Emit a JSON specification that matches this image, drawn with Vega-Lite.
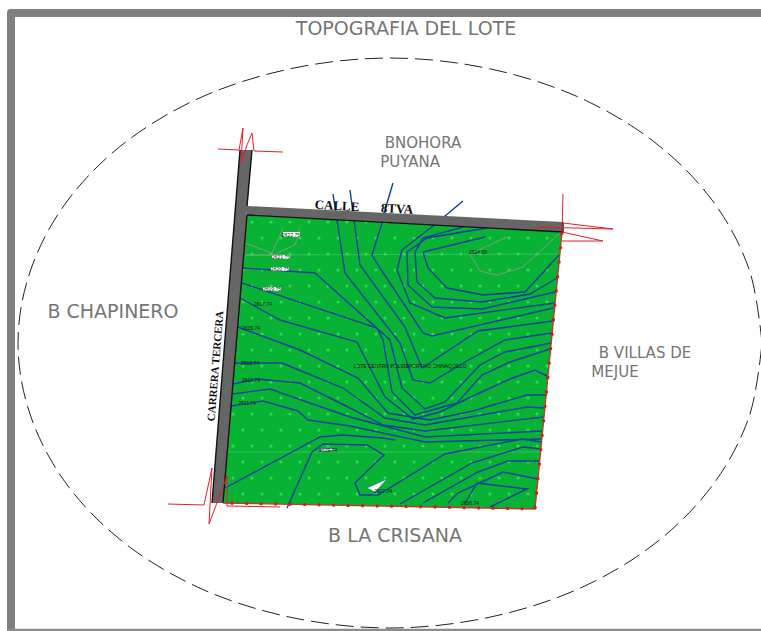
{"$schema":"https://vega.github.io/schema/vega-lite/v6.json","width":761,"height":631,"padding":0,"autosize":{"type":"none"},"background":"white","config":{"view":{"stroke":null}},
"datasets":{
"frame":[{"g":"a","x":11,"y":631},{"g":"a","x":11,"y":13},{"g":"a","x":761,"y":13}],
"frameBottom":[{"g":"b","x":7,"y":630},{"g":"b","x":761,"y":630}],
"ellipse":[{"g":"e","x":762,"y":343},{"g":"e","x":749,"y":269},{"g":"e","x":712,"y":200},{"g":"e","x":653,"y":141},{"g":"e","x":576,"y":96},{"g":"e","x":486,"y":68},{"g":"e","x":390,"y":58},{"g":"e","x":294,"y":68},{"g":"e","x":204,"y":96},{"g":"e","x":127,"y":141},{"g":"e","x":68,"y":200},{"g":"e","x":31,"y":269},{"g":"e","x":18,"y":343},{"g":"e","x":31,"y":417},{"g":"e","x":68,"y":486},{"g":"e","x":127,"y":545},{"g":"e","x":204,"y":590},{"g":"e","x":294,"y":618},{"g":"e","x":390,"y":628},{"g":"e","x":486,"y":618},{"g":"e","x":576,"y":590},{"g":"e","x":653,"y":545},{"g":"e","x":712,"y":486},{"g":"e","x":749,"y":417},{"g":"e","x":762,"y":343}],
"green":[{"g":"l","x":223,"y":503,"y2":503},{"g":"l","x":246,"y":215,"y2":503.4},{"g":"l","x":535,"y":229.6,"y2":509},{"g":"l","x":562,"y":231,"y2":231}],
"road":[{"g":"left","x":212,"y":503,"y2":503},{"g":"left","x":223,"y":364,"y2":503},{"g":"left","x":240,"y":150,"y2":296},{"g":"left","x":252,"y":150,"y2":150},{"g":"top","x":247,"y":206,"y2":215},{"g":"top","x":563,"y":222,"y2":232}],
"white":[{"g":"t1","x":367,"y":488,"y2":488},{"g":"t1","x":375,"y":484.4,"y2":492},{"g":"t1","x":387,"y":479,"y2":479},{"g":"t2","x":320,"y":448,"y2":448},{"g":"t2","x":322,"y":448.2,"y2":452},{"g":"t2","x":338,"y":449,"y2":449}],
"faint":[{"g":"f1","x":246,"y":255},{"g":"f1","x":558,"y":254},{"g":"f2","x":226,"y":452},{"g":"f2","x":540,"y":452}],
"gray":[{"g":"g1","x":283,"y":228},{"g":"g1","x":272,"y":253},{"g":"g1","x":245,"y":243},{"g":"g2","x":300,"y":228},{"g":"g2","x":295,"y":245},{"g":"g2","x":273,"y":255},{"g":"g2","x":245,"y":255},{"g":"g3","x":507,"y":237},{"g":"g3","x":470,"y":254},{"g":"g3","x":480,"y":271},{"g":"g3","x":497,"y":275},{"g":"g3","x":523,"y":267},{"g":"g3","x":560,"y":233}],
"contours":[
{"g":"t1","x":393,"y":183},{"g":"t1","x":385,"y":210},{"g":"t1","x":382,"y":223},{"g":"t1","x":372,"y":255},{"g":"t1","x":380,"y":268},{"g":"t1","x":423,"y":333},{"g":"t1","x":432,"y":336},{"g":"t1","x":553,"y":308},
{"g":"t2","x":350,"y":190},{"g":"t2","x":354,"y":220},{"g":"t2","x":360,"y":265},{"g":"t2","x":405,"y":327},{"g":"t2","x":422,"y":368},{"g":"t2","x":478,"y":331},{"g":"t2","x":553,"y":321},
{"g":"t3","x":333,"y":194},{"g":"t3","x":337,"y":220},{"g":"t3","x":345,"y":273},{"g":"t3","x":400,"y":343},{"g":"t3","x":413,"y":380},{"g":"t3","x":430,"y":383},{"g":"t3","x":465,"y":362},{"g":"t3","x":505,"y":340},{"g":"t3","x":552,"y":333},
{"g":"h1","x":243,"y":268},{"g":"h1","x":315,"y":273},{"g":"h1","x":390,"y":340},{"g":"h1","x":402,"y":388},{"g":"h1","x":425,"y":409},{"g":"h1","x":445,"y":402},{"g":"h1","x":480,"y":365},{"g":"h1","x":505,"y":352},{"g":"h1","x":551,"y":343},
{"g":"h2","x":242,"y":283},{"g":"h2","x":377,"y":328},{"g":"h2","x":383,"y":340},{"g":"h2","x":392,"y":392},{"g":"h2","x":415,"y":415},{"g":"h2","x":457,"y":403},{"g":"h2","x":482,"y":375},{"g":"h2","x":510,"y":362},{"g":"h2","x":550,"y":349},
{"g":"h3","x":240,"y":298},{"g":"h3","x":280,"y":320},{"g":"h3","x":357,"y":342},{"g":"h3","x":385,"y":397},{"g":"h3","x":413,"y":419},{"g":"h3","x":440,"y":412},{"g":"h3","x":473,"y":396},{"g":"h3","x":510,"y":379},{"g":"h3","x":535,"y":370},{"g":"h3","x":549,"y":377},
{"g":"u1","x":433,"y":226},{"g":"u1","x":402,"y":250},{"g":"u1","x":397,"y":270},{"g":"u1","x":410,"y":303},{"g":"u1","x":445,"y":318},{"g":"u1","x":555,"y":303},
{"g":"u2","x":487,"y":228},{"g":"u2","x":427,"y":238},{"g":"u2","x":407,"y":252},{"g":"u2","x":408,"y":285},{"g":"u2","x":432,"y":307},{"g":"u2","x":482,"y":309},{"g":"u2","x":555,"y":292},
{"g":"u3","x":463,"y":227},{"g":"u3","x":423,"y":238},{"g":"u3","x":415,"y":252},{"g":"u3","x":417,"y":282},{"g":"u3","x":435,"y":298},{"g":"u3","x":482,"y":302},{"g":"u3","x":530,"y":294},{"g":"u3","x":557,"y":278},
{"g":"u4","x":485,"y":237},{"g":"u4","x":423,"y":252},{"g":"u4","x":428,"y":268},{"g":"u4","x":447,"y":288},{"g":"u4","x":483,"y":295},{"g":"u4","x":525,"y":292},{"g":"u4","x":559,"y":255},
{"g":"s1","x":463,"y":201},{"g":"s1","x":433,"y":226},
{"g":"a","x":238,"y":327},{"g":"a","x":300,"y":350},{"g":"a","x":358,"y":378},{"g":"a","x":388,"y":413},{"g":"a","x":430,"y":420},{"g":"a","x":473,"y":411},{"g":"a","x":527,"y":395},{"g":"a","x":547,"y":395},
{"g":"b","x":235,"y":363},{"g":"b","x":282,"y":363},{"g":"b","x":343,"y":388},{"g":"b","x":385,"y":418},{"g":"b","x":425,"y":425},{"g":"b","x":527,"y":407},{"g":"b","x":545,"y":408},
{"g":"c","x":233,"y":384},{"g":"c","x":257,"y":379},{"g":"c","x":300,"y":383},{"g":"c","x":350,"y":408},{"g":"c","x":383,"y":425},{"g":"c","x":425,"y":431},{"g":"c","x":543,"y":417},
{"g":"d","x":233,"y":394},{"g":"d","x":270,"y":389},{"g":"d","x":350,"y":417},{"g":"d","x":425,"y":437},{"g":"d","x":542,"y":431},
{"g":"e","x":231,"y":406},{"g":"e","x":263,"y":401},{"g":"e","x":298,"y":411},{"g":"e","x":308,"y":420},{"g":"e","x":350,"y":426},{"g":"e","x":425,"y":442},{"g":"e","x":542,"y":439},
{"g":"f","x":225,"y":488},{"g":"f","x":320,"y":437},{"g":"f","x":342,"y":435},{"g":"f","x":383,"y":438},{"g":"f","x":395,"y":440},
{"g":"loop","x":287,"y":508},{"g":"loop","x":312,"y":452},{"g":"loop","x":323,"y":444},{"g":"loop","x":367,"y":445},{"g":"loop","x":384,"y":455},{"g":"loop","x":355,"y":483},{"g":"loop","x":360,"y":495},{"g":"loop","x":378,"y":495},{"g":"loop","x":445,"y":454},{"g":"loop","x":522,"y":439},{"g":"loop","x":542,"y":442},
{"g":"p1","x":400,"y":504},{"g":"p1","x":472,"y":463},{"g":"p1","x":523,"y":447},{"g":"p1","x":541,"y":449},
{"g":"p2","x":423,"y":503},{"g":"p2","x":478,"y":472},{"g":"p2","x":508,"y":461},{"g":"p2","x":540,"y":461},
{"g":"p3","x":448,"y":503},{"g":"p3","x":458,"y":493},{"g":"p3","x":503,"y":472},{"g":"p3","x":538,"y":479},
{"g":"p4","x":465,"y":503},{"g":"p4","x":477,"y":483},{"g":"p4","x":527,"y":489},{"g":"p4","x":490,"y":507}
],
"black":[{"g":"a","x":240,"y":150},{"g":"a","x":212,"y":503},{"g":"b","x":252,"y":150},{"g":"b","x":247,"y":206},{"g":"c","x":247,"y":215},{"g":"c","x":223,"y":503},{"g":"d","x":247,"y":215},{"g":"d","x":563,"y":232},{"g":"d","x":563,"y":222}],
"redEdge":[{"g":"r","x":562,"y":232},{"g":"r","x":535,"y":509},{"g":"r","x":223,"y":503}],
"red":[
{"g":"a","x":218,"y":149},{"g":"a","x":239,"y":150},{"g":"a","x":243,"y":128},{"g":"a","x":241,"y":163},{"g":"a","x":247,"y":145},{"g":"a","x":252,"y":133},{"g":"a","x":254,"y":151},{"g":"a","x":283,"y":152},
{"g":"b","x":563,"y":194},{"g":"b","x":562,"y":232},{"g":"b","x":603,"y":241},{"g":"b","x":562,"y":241},
{"g":"c","x":563,"y":223},{"g":"c","x":613,"y":229},{"g":"c","x":535,"y":227},
{"g":"d","x":168,"y":504},{"g":"d","x":204,"y":505},{"g":"d","x":212,"y":468},{"g":"d","x":209,"y":524},{"g":"d","x":227,"y":476},{"g":"d","x":227,"y":506},{"g":"d","x":280,"y":507}
],
"bigLabels":[{"x":406,"y":29,"t":"TOPOGRAFIA DEL LOTE"},{"x":113,"y":312,"t":"B CHAPINERO"},{"x":395,"y":536,"t":"B LA CRISANA"}],
"pairLabels":[{"x":423,"y":143,"t":"BNOHORA"},{"x":410,"y":162,"t":"PUYANA"},{"x":645,"y":353,"t":"B VILLAS DE"},{"x":615,"y":372,"t":"MEJUE"}],
"roadLabels":[{"x":337,"y":206,"t":"CALLE"},{"x":397,"y":209,"t":"8TVA"}],
"roadLabelV":[{"x":216,"y":366,"t":"CARRERA TERCERA"}],
"tags":[{"x":283,"x2":300,"y":232,"y2":237},{"x":272,"x2":290,"y":255,"y2":259},{"x":271,"x2":289,"y":267,"y2":271},{"x":263,"x2":281,"y":287,"y2":291}],
"tiny":[{"x":291,"y":234.5,"t":"2622.75"},{"x":281,"y":257,"t":"2621.75"},{"x":280,"y":269,"t":"2620.75"},{"x":272,"y":289,"t":"2619.75"},{"x":263,"y":304,"t":"2617.74"},{"x":251,"y":328,"t":"2615.74"},{"x":250,"y":363,"t":"2613.74"},{"x":251,"y":380,"t":"2612.74"},{"x":247,"y":403,"t":"2611.74"},{"x":328,"y":450,"t":"2609.74"},{"x":383,"y":491,"t":"2607.74"},{"x":470,"y":503,"t":"2606.74"},{"x":478,"y":252,"t":"2624.00"},{"x":410,"y":366,"t":"LOTE CENTRO POLIDEPORTIVO CHINAQUILLO"}],
"dots":[
{"x":252,"y":222},{"x":271,"y":222},{"x":290,"y":222},{"x":309,"y":222},{"x":328,"y":222},{"x":347,"y":222},{"x":366,"y":222},{"x":385,"y":222},
{"x":262,"y":238},{"x":281,"y":238},{"x":300,"y":238},{"x":319,"y":238},{"x":338,"y":238},{"x":357,"y":238},{"x":376,"y":238},{"x":395,"y":238},{"x":414,"y":238},{"x":433,"y":238},{"x":452,"y":238},{"x":471,"y":238},{"x":490,"y":238},{"x":509,"y":238},{"x":528,"y":238},{"x":547,"y":238},
{"x":252,"y":254},{"x":271,"y":254},{"x":290,"y":254},{"x":309,"y":254},{"x":328,"y":254},{"x":347,"y":254},{"x":366,"y":254},{"x":385,"y":254},{"x":404,"y":254},{"x":423,"y":254},{"x":442,"y":254},{"x":461,"y":254},{"x":480,"y":254},{"x":499,"y":254},{"x":518,"y":254},{"x":537,"y":254},
{"x":243,"y":270},{"x":262,"y":270},{"x":281,"y":270},{"x":300,"y":270},{"x":319,"y":270},{"x":338,"y":270},{"x":357,"y":270},{"x":376,"y":270},{"x":395,"y":270},{"x":414,"y":270},{"x":433,"y":270},{"x":452,"y":270},{"x":471,"y":270},{"x":490,"y":270},{"x":509,"y":270},{"x":528,"y":270},{"x":547,"y":270},
{"x":252,"y":286},{"x":271,"y":286},{"x":290,"y":286},{"x":309,"y":286},{"x":328,"y":286},{"x":347,"y":286},{"x":366,"y":286},{"x":385,"y":286},{"x":404,"y":286},{"x":423,"y":286},{"x":442,"y":286},{"x":461,"y":286},{"x":480,"y":286},{"x":499,"y":286},{"x":518,"y":286},{"x":537,"y":286},
{"x":243,"y":302},{"x":262,"y":302},{"x":281,"y":302},{"x":300,"y":302},{"x":319,"y":302},{"x":338,"y":302},{"x":357,"y":302},{"x":376,"y":302},{"x":395,"y":302},{"x":414,"y":302},{"x":433,"y":302},{"x":452,"y":302},{"x":471,"y":302},{"x":490,"y":302},{"x":509,"y":302},{"x":528,"y":302},{"x":547,"y":302},
{"x":252,"y":318},{"x":271,"y":318},{"x":290,"y":318},{"x":309,"y":318},{"x":328,"y":318},{"x":347,"y":318},{"x":366,"y":318},{"x":385,"y":318},{"x":404,"y":318},{"x":423,"y":318},{"x":442,"y":318},{"x":461,"y":318},{"x":480,"y":318},{"x":499,"y":318},{"x":518,"y":318},{"x":537,"y":318},
{"x":243,"y":334},{"x":262,"y":334},{"x":281,"y":334},{"x":300,"y":334},{"x":319,"y":334},{"x":338,"y":334},{"x":357,"y":334},{"x":376,"y":334},{"x":395,"y":334},{"x":414,"y":334},{"x":433,"y":334},{"x":452,"y":334},{"x":471,"y":334},{"x":490,"y":334},{"x":509,"y":334},{"x":528,"y":334},{"x":547,"y":334},
{"x":252,"y":350},{"x":271,"y":350},{"x":290,"y":350},{"x":309,"y":350},{"x":328,"y":350},{"x":347,"y":350},{"x":366,"y":350},{"x":385,"y":350},{"x":404,"y":350},{"x":423,"y":350},{"x":442,"y":350},{"x":461,"y":350},{"x":480,"y":350},{"x":499,"y":350},{"x":518,"y":350},{"x":537,"y":350},
{"x":243,"y":366},{"x":262,"y":366},{"x":281,"y":366},{"x":300,"y":366},{"x":319,"y":366},{"x":338,"y":366},{"x":357,"y":366},{"x":376,"y":366},{"x":395,"y":366},{"x":414,"y":366},{"x":433,"y":366},{"x":452,"y":366},{"x":471,"y":366},{"x":490,"y":366},{"x":509,"y":366},{"x":528,"y":366},{"x":547,"y":366},
{"x":252,"y":382},{"x":271,"y":382},{"x":290,"y":382},{"x":309,"y":382},{"x":328,"y":382},{"x":347,"y":382},{"x":366,"y":382},{"x":385,"y":382},{"x":404,"y":382},{"x":423,"y":382},{"x":442,"y":382},{"x":461,"y":382},{"x":480,"y":382},{"x":499,"y":382},{"x":518,"y":382},{"x":537,"y":382},
{"x":243,"y":398},{"x":262,"y":398},{"x":281,"y":398},{"x":300,"y":398},{"x":319,"y":398},{"x":338,"y":398},{"x":357,"y":398},{"x":376,"y":398},{"x":395,"y":398},{"x":414,"y":398},{"x":433,"y":398},{"x":452,"y":398},{"x":471,"y":398},{"x":490,"y":398},{"x":509,"y":398},{"x":528,"y":398},
{"x":233,"y":414},{"x":252,"y":414},{"x":271,"y":414},{"x":290,"y":414},{"x":309,"y":414},{"x":328,"y":414},{"x":347,"y":414},{"x":366,"y":414},{"x":385,"y":414},{"x":404,"y":414},{"x":423,"y":414},{"x":442,"y":414},{"x":461,"y":414},{"x":480,"y":414},{"x":499,"y":414},{"x":518,"y":414},{"x":537,"y":414},
{"x":243,"y":430},{"x":262,"y":430},{"x":281,"y":430},{"x":300,"y":430},{"x":319,"y":430},{"x":338,"y":430},{"x":357,"y":430},{"x":376,"y":430},{"x":395,"y":430},{"x":414,"y":430},{"x":433,"y":430},{"x":452,"y":430},{"x":471,"y":430},{"x":490,"y":430},{"x":509,"y":430},{"x":528,"y":430},
{"x":233,"y":446},{"x":252,"y":446},{"x":271,"y":446},{"x":290,"y":446},{"x":309,"y":446},{"x":328,"y":446},{"x":347,"y":446},{"x":366,"y":446},{"x":385,"y":446},{"x":404,"y":446},{"x":423,"y":446},{"x":442,"y":446},{"x":461,"y":446},{"x":480,"y":446},{"x":499,"y":446},{"x":518,"y":446},{"x":537,"y":446},
{"x":243,"y":462},{"x":262,"y":462},{"x":281,"y":462},{"x":300,"y":462},{"x":319,"y":462},{"x":338,"y":462},{"x":357,"y":462},{"x":376,"y":462},{"x":395,"y":462},{"x":414,"y":462},{"x":433,"y":462},{"x":452,"y":462},{"x":471,"y":462},{"x":490,"y":462},{"x":509,"y":462},{"x":528,"y":462},
{"x":233,"y":478},{"x":252,"y":478},{"x":271,"y":478},{"x":290,"y":478},{"x":309,"y":478},{"x":328,"y":478},{"x":347,"y":478},{"x":366,"y":478},{"x":385,"y":478},{"x":404,"y":478},{"x":423,"y":478},{"x":442,"y":478},{"x":461,"y":478},{"x":480,"y":478},{"x":499,"y":478},{"x":518,"y":478},
{"x":243,"y":494},{"x":262,"y":494},{"x":281,"y":494},{"x":300,"y":494},{"x":319,"y":494},{"x":338,"y":494},{"x":357,"y":494},{"x":376,"y":494},{"x":395,"y":494},{"x":414,"y":494},{"x":433,"y":494},{"x":452,"y":494},{"x":471,"y":494},{"x":490,"y":494},{"x":509,"y":494},{"x":528,"y":494}
]
},
"encoding":{"x":{"field":"x","type":"quantitative","scale":{"domain":[0,761],"nice":false,"zero":false},"axis":null},"y":{"field":"y","type":"quantitative","scale":{"domain":[631,0],"nice":false,"zero":false},"axis":null}},
"layer":[
{"data":{"name":"frame"},"transform":[{"window":[{"op":"row_number","as":"o"}]}],"mark":{"type":"line","stroke":"#808080","strokeWidth":8,"strokeJoin":"round"},"encoding":{"order":{"field":"o"}}},
{"data":{"name":"frameBottom"},"mark":{"type":"line","stroke":"#8c8c8c","strokeWidth":2.5}},
{"data":{"name":"ellipse"},"transform":[{"window":[{"op":"row_number","as":"o"}]}],"mark":{"type":"line","interpolate":"cardinal","stroke":"#222222","strokeWidth":1,"strokeDash":[18,7]},"encoding":{"order":{"field":"o"}}},
{"data":{"name":"green"},"mark":{"type":"area","fill":"#08b234","opacity":1},"encoding":{"y2":{"field":"y2"},"detail":{"field":"g"}}},
{"data":{"name":"dots"},"mark":{"type":"point","filled":true,"shape":"circle","size":10,"color":"#30dc4a","opacity":1}},
{"data":{"name":"faint"},"mark":{"type":"line","stroke":"#55cc77","strokeWidth":0.6},"encoding":{"detail":{"field":"g"}}},
{"data":{"name":"gray"},"transform":[{"window":[{"op":"row_number","as":"o"}]}],"mark":{"type":"line","stroke":"#7f9f7f","strokeWidth":1},"encoding":{"detail":{"field":"g"},"order":{"field":"o"}}},
{"data":{"name":"contours"},"transform":[{"window":[{"op":"row_number","as":"o"}]}],"mark":{"type":"line","stroke":"#123f9e","strokeWidth":1.4},"encoding":{"detail":{"field":"g"},"order":{"field":"o"}}},
{"data":{"name":"white"},"mark":{"type":"area","fill":"white","stroke":"#123f9e","strokeWidth":0.4,"opacity":1},"encoding":{"y2":{"field":"y2"},"detail":{"field":"g"}}},
{"data":{"name":"road"},"mark":{"type":"area","fill":"#666666","opacity":1},"encoding":{"y2":{"field":"y2"},"detail":{"field":"g"}}},
{"data":{"name":"black"},"transform":[{"window":[{"op":"row_number","as":"o"}]}],"mark":{"type":"line","stroke":"#111111","strokeWidth":1.4},"encoding":{"detail":{"field":"g"},"order":{"field":"o"}}},
{"data":{"name":"redEdge"},"transform":[{"window":[{"op":"row_number","as":"o"}]}],"mark":{"type":"line","stroke":"#c0392b","strokeWidth":1.4},"encoding":{"order":{"field":"o"}}},
{"data":{"name":"redEdge"},"transform":[{"window":[{"op":"row_number","as":"o"}]}],"mark":{"type":"line","stroke":"#e0101a","strokeWidth":3,"strokeDash":[2.5,12]},"encoding":{"order":{"field":"o"}}},
{"data":{"name":"red"},"transform":[{"window":[{"op":"row_number","as":"o"}]}],"mark":{"type":"line","stroke":"#e0202a","strokeWidth":1},"encoding":{"detail":{"field":"g"},"order":{"field":"o"}}},
{"data":{"name":"tags"},"mark":{"type":"rect","fill":"white"},"encoding":{"x2":{"field":"x2"},"y2":{"field":"y2"}}},
{"data":{"name":"tiny"},"mark":{"type":"text","font":"Liberation Sans","fontSize":5,"color":"#111111","align":"center","baseline":"middle"},"encoding":{"text":{"field":"t"}}},
{"data":{"name":"bigLabels"},"mark":{"type":"text","font":"DejaVu Sans","fontSize":19,"color":"#757575","align":"center","baseline":"middle"},"encoding":{"text":{"field":"t"}}},
{"data":{"name":"pairLabels"},"mark":{"type":"text","font":"DejaVu Sans","fontSize":15,"color":"#757575","align":"center","baseline":"middle"},"encoding":{"text":{"field":"t"}}},
{"data":{"name":"roadLabels"},"mark":{"type":"text","font":"Liberation Serif","fontWeight":"bold","fontSize":13,"angle":3,"color":"#111111","align":"center","baseline":"middle"},"encoding":{"text":{"field":"t"}}},
{"data":{"name":"roadLabelV"},"mark":{"type":"text","font":"Liberation Serif","fontWeight":"bold","fontSize":11,"angle":274.6,"color":"#111111","align":"center","baseline":"middle"},"encoding":{"text":{"field":"t"}}}
]}
